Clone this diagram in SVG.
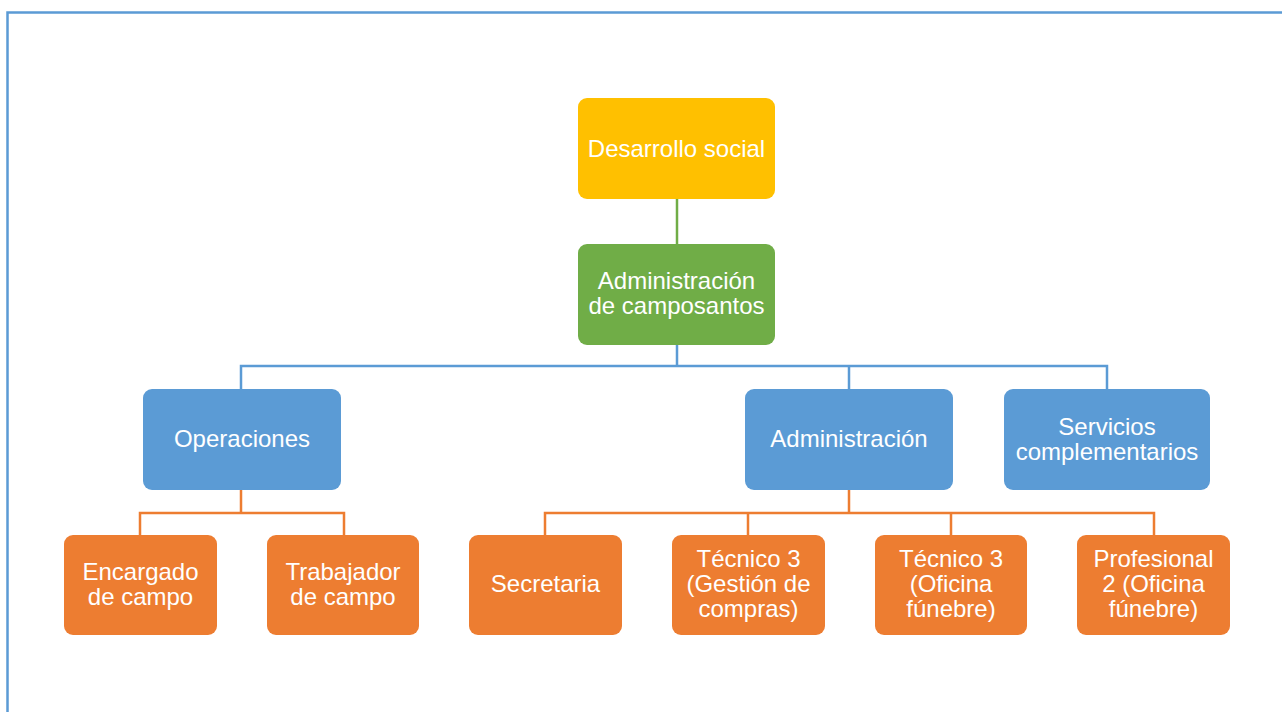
<svg xmlns="http://www.w3.org/2000/svg" width="1282" height="712" viewBox="0 0 1282 712">
  <style>
    .frame { fill: none; stroke: #5B9BD5; stroke-width: 2.5; }
    .box { stroke: none; }
    .gold { fill: #FFC000; }
    .green { fill: #70AD47; }
    .blue { fill: #5B9BD5; }
    .orange { fill: #ED7D31; }
    .lbl { font-family: "Liberation Sans", Arial, sans-serif; font-size: 24px; fill: #FFFFFF; text-anchor: middle; }
    .c-green { stroke: #70AD47; stroke-width: 2.5; fill: none; }
    .c-blue { stroke: #5B9BD5; stroke-width: 2.5; fill: none; }
    .c-orange { stroke: #ED7D31; stroke-width: 2.5; fill: none; }
  </style>
  <rect width="1282" height="712" fill="#FFFFFF"/>
  <!-- page frame: only top and left edges are visible -->
  <path class="frame" d="M7.5,712 V12.5 H1282"/>

  <g id="connectors">
    <path class="c-green" d="M677,199 V244"/>
    <path class="c-blue" d="M677,345 V366 M241,389 V366 H1107 V389 M849,366 V389"/>
    <path class="c-orange" d="M241,490 V513 M140,535 V513 H344 V535"/>
    <path class="c-orange" d="M849,490 V513 M545,535 V513 H1154 V535 M748,513 V535 M951,513 V535"/>
  </g>

  <g id="n-desarrollo">
    <rect class="box gold" x="578" y="98" width="197" height="101" rx="9"/>
    <text class="lbl" x="676.5" y="157">Desarrollo social</text>
  </g>
  <g id="n-admin-camposantos">
    <rect class="box green" x="578" y="244" width="197" height="101" rx="9"/>
    <text class="lbl" x="676.5" y="289">Administración</text>
    <text class="lbl" x="676.5" y="314">de camposantos</text>
  </g>

  <g id="n-operaciones">
    <rect class="box blue" x="143" y="389" width="198" height="101" rx="9"/>
    <text class="lbl" x="242" y="447">Operaciones</text>
  </g>
  <g id="n-administracion">
    <rect class="box blue" x="745" y="389" width="208" height="101" rx="9"/>
    <text class="lbl" x="849" y="447">Administración</text>
  </g>
  <g id="n-servicios">
    <rect class="box blue" x="1004" y="389" width="206" height="101" rx="9"/>
    <text class="lbl" x="1107" y="435">Servicios</text>
    <text class="lbl" x="1107" y="460">complementarios</text>
  </g>

  <g id="n-encargado">
    <rect class="box orange" x="64" y="535" width="153" height="100" rx="9"/>
    <text class="lbl" x="140.5" y="580">Encargado</text>
    <text class="lbl" x="140.5" y="605">de campo</text>
  </g>
  <g id="n-trabajador">
    <rect class="box orange" x="267" y="535" width="152" height="100" rx="9"/>
    <text class="lbl" x="343" y="580">Trabajador</text>
    <text class="lbl" x="343" y="605">de campo</text>
  </g>
  <g id="n-secretaria">
    <rect class="box orange" x="469" y="535" width="153" height="100" rx="9"/>
    <text class="lbl" x="545.5" y="592">Secretaria</text>
  </g>
  <g id="n-tecnico-compras">
    <rect class="box orange" x="672" y="535" width="153" height="100" rx="9"/>
    <text class="lbl" x="748.5" y="567">Técnico 3</text>
    <text class="lbl" x="748.5" y="592">(Gestión de</text>
    <text class="lbl" x="748.5" y="617">compras)</text>
  </g>
  <g id="n-tecnico-funebre">
    <rect class="box orange" x="875" y="535" width="152" height="100" rx="9"/>
    <text class="lbl" x="951" y="567">Técnico 3</text>
    <text class="lbl" x="951" y="592">(Oficina</text>
    <text class="lbl" x="951" y="617">fúnebre)</text>
  </g>
  <g id="n-profesional">
    <rect class="box orange" x="1077" y="535" width="153" height="100" rx="9"/>
    <text class="lbl" x="1153.5" y="567">Profesional</text>
    <text class="lbl" x="1153.5" y="592">2 (Oficina</text>
    <text class="lbl" x="1153.5" y="617">fúnebre)</text>
  </g>
</svg>
